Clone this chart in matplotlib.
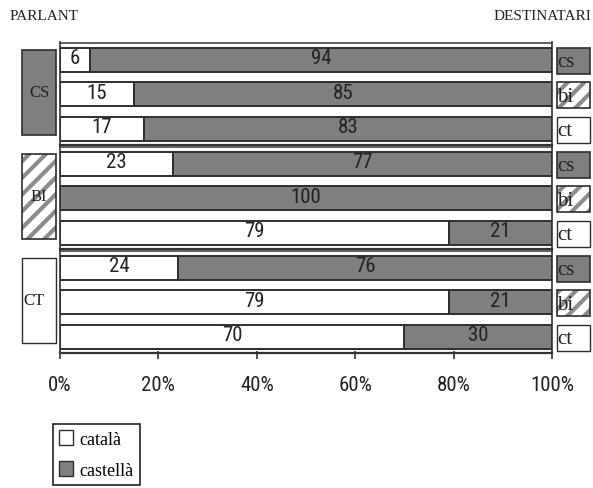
import matplotlib
matplotlib.use("Agg")
import matplotlib.pyplot as plt
from matplotlib import font_manager
from matplotlib.patches import Rectangle, Patch

# ---- data ----
speakers = ["CS", "BI", "CT"]
addressees = ["cs", "bi", "ct"]
catala = [6, 15, 17, 23, 0, 79, 24, 79, 70]
castella = [94, 85, 83, 77, 100, 21, 76, 21, 30]
xticks = [0, 20, 40, 60, 80, 100]
xticklabels = ["0%", "20%", "40%", "60%", "80%", "100%"]
legend_labels = ["català", "castellà"]

# ---- style ----
GRAY = "#7f7f7f"
EDGE = "#2e2e2e"
HATCH = "#8c8c8c"
SERIF = ["Liberation Serif", "DejaVu Serif"]

installed = {f.name for f in font_manager.fontManager.ttflist}
narrow_name = next((n for n in ["Roboto Condensed", "Archivo Narrow", "PT Sans Narrow",
                                "Liberation Sans Narrow", "Open Sans Condensed",
                                "Liberation Sans"] if n in installed), "DejaVu Sans")
NARROW = [narrow_name, "DejaVu Sans"]
IS_NARROW = narrow_name not in ("Liberation Sans", "DejaVu Sans")
NUM_SIZE = 15 if IS_NARROW else 14
plt.rcParams["hatch.linewidth"] = 3.0

W, H = 593, 489
fig = plt.figure(figsize=(W / 100, H / 100), dpi=100)

# layout in pixels
X0, X1 = 60, 552
Y_TOP, Y_BOT = 43, 352
ROW_PITCH, GROUP_PITCH, BAR_H = 34.5, 104, 24
FIRST_CENTER = 17.5

ax = fig.add_axes([X0 / W, 1 - Y_BOT / H, (X1 - X0) / W, (Y_BOT - Y_TOP) / H])
ax.set_xlim(0, 100)
ax.set_ylim(Y_BOT - Y_TOP, 0)

centers = []
for g in range(3):
    for r in range(3):
        centers.append(FIRST_CENTER + g * GROUP_PITCH + r * ROW_PITCH)

ax.barh(centers, catala, height=BAR_H, color="white", edgecolor=EDGE, linewidth=1.4)
ax.barh(centers, castella, left=catala, height=BAR_H, color=GRAY,
        edgecolor=EDGE, linewidth=1.4)

for y, a, b in zip(centers, catala, castella):
    if a > 0:
        ax.text(a / 2, y - 1.5, str(a), ha="center", va="center",
                fontsize=NUM_SIZE, family=NARROW, color="#222222")
    if b > 0:
        ax.text(a + b / 2, y - 1.5, str(b), ha="center", va="center",
                fontsize=NUM_SIZE, family=NARROW, color="#222222")

# frame lines of each group block
for g in range(3):
    top = centers[3 * g] - BAR_H / 2 - 5
    bot = centers[3 * g + 2] + BAR_H / 2 + 4
    ax.axhline(top, color="#444444", lw=1.2, clip_on=False)
    ax.axhline(bot, color="#333333", lw=1.6, clip_on=False)

for side in ["top", "bottom"]:
    ax.spines[side].set_visible(False)
for side in ["left", "right"]:
    ax.spines[side].set_color("#333333")
    ax.spines[side].set_linewidth(1.2)

ax.set_yticks([])
ax.set_xticks(xticks)
ax.set_xticklabels(xticklabels, fontsize=NUM_SIZE, family=NARROW, color="#222222")
ax.tick_params(axis="x", direction="out", length=6, width=1.2, color="#333333", pad=11)

# overlay in pixel coordinates for the speaker / addressee boxes and headings
ov = fig.add_axes([0, 0, 1, 1])
ov.set_xlim(0, W)
ov.set_ylim(H, 0)
ov.axis("off")
ov.patch.set_alpha(0)

ov.text(10, 17, "PARLANT", family=SERIF, fontsize=11, va="center", ha="left",
        color="#222222")
ov.text(494, 17, "DESTINATARI", family=SERIF, fontsize=11, va="center", ha="left",
        color="#222222")

def styled_box(x, y, w, h, kind):
    if kind == 0:
        ov.add_patch(Rectangle((x, y), w, h, facecolor=GRAY, edgecolor=EDGE, lw=1.2))
    elif kind == 1:
        ov.add_patch(Rectangle((x, y), w, h, facecolor="white", edgecolor=HATCH,
                               hatch="//", lw=0))
        ov.add_patch(Rectangle((x, y), w, h, facecolor="none", edgecolor=EDGE, lw=1.2))
    else:
        ov.add_patch(Rectangle((x, y), w, h, facecolor="white", edgecolor=EDGE, lw=1.0))

# speaker boxes on the left
for g, name in enumerate(speakers):
    top = Y_TOP + centers[3 * g] - BAR_H / 2 + 2
    bot = Y_TOP + centers[3 * g + 2] + BAR_H / 2 - 6
    styled_box(22, top, 34, bot - top, g)
    ov.text(39 if g < 2 else 23, (top + bot) / 2, name, family=SERIF, fontsize=12,
            ha="center" if g < 2 else "left", va="center", color="#222222")

# addressee boxes on the right
for i, y in enumerate(centers):
    k = i % 3
    yc = Y_TOP + y + 1
    styled_box(557, yc - 13, 33, 26, k)
    ov.text(557, yc + 1, addressees[k], family=SERIF, fontsize=15, ha="left",
            va="center", color="#222222")

# legend
handles = [Patch(facecolor="white", edgecolor=EDGE, lw=1.0),
           Patch(facecolor=GRAY, edgecolor=EDGE, lw=1.0)]
leg = fig.legend(handles, legend_labels, loc="upper left",
                 bbox_to_anchor=(53 / W, 1 - 425 / H), bbox_transform=fig.transFigure,
                 prop={"family": SERIF, "size": 13}, fancybox=False, framealpha=1,
                 edgecolor="#222222", handlelength=0.75, handleheight=0.85,
                 handletextpad=0.35, labelspacing=0.75, borderpad=0.35,
                 borderaxespad=0)
leg.get_frame().set_linewidth(1.2)

fig.savefig("out.png", dpi=100)
